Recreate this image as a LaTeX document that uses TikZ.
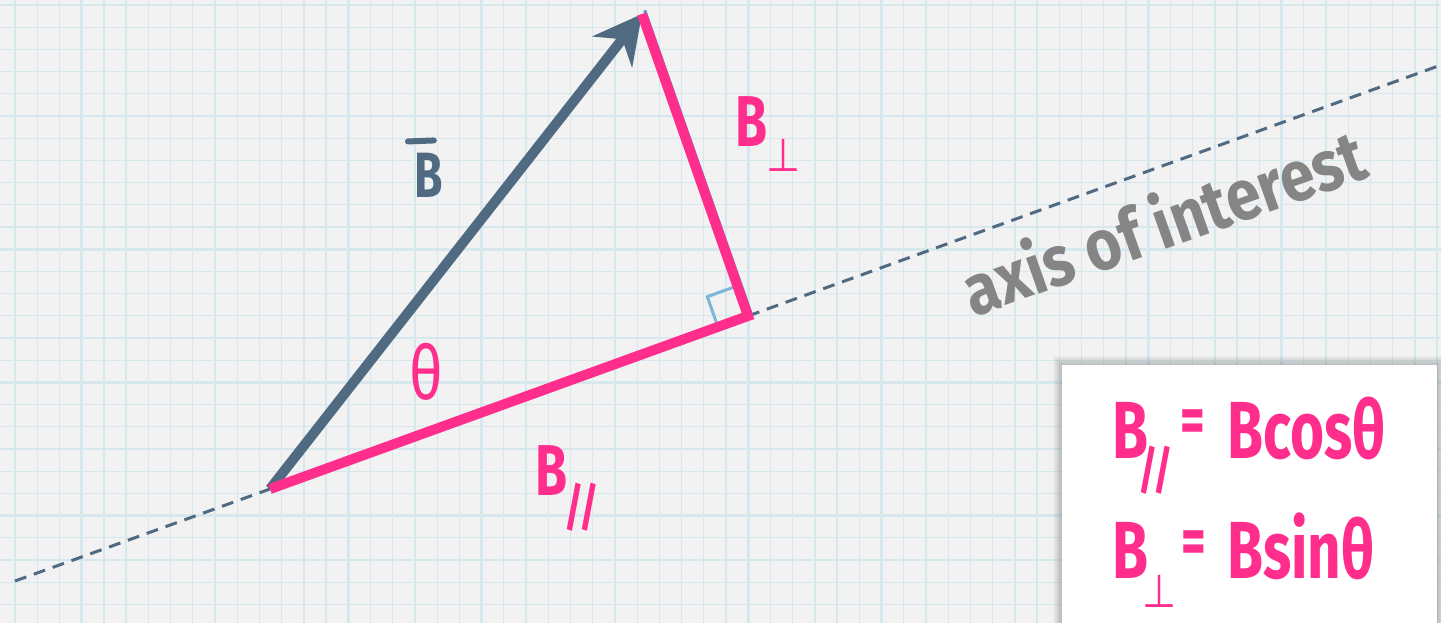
\documentclass[tikz,border=0pt]{standalone}
\usepackage{fontspec}
\usepackage{graphicx}
\setmainfont{Fira Sans}
\newfontfamily\symfont{DejaVu Sans}
\usetikzlibrary{arrows.meta,calc}
\definecolor{paper}{HTML}{F2F2F2}
\definecolor{gridblue}{HTML}{D6E8EE}
\definecolor{slate}{HTML}{506A82}
\definecolor{hotpink}{HTML}{FF2D8C}
\definecolor{angleblue}{HTML}{7DB5D8}
\definecolor{perpblue}{HTML}{4A9FD5}
\definecolor{labelgray}{HTML}{858585}
\newcommand{\nar}[1]{\scalebox{0.72}[1]{#1}}
\begin{document}
\begin{tikzpicture}[x=1pt,y=-1pt,
  gridminor/.style={gridblue, line width=1.3pt},
  gridmajor/.style={gridblue, line width=2.6pt},
  axisline/.style={slate, line width=3pt, dash pattern=on 12pt off 8pt},
  vecline/.style={slate, line width=10pt, -{Stealth[length=48pt,width=50pt,inset=16pt]}},
  pinkline/.style={hotpink, line width=10pt, line join=miter},
  anglemark/.style={angleblue, line width=3pt},
  perpline/.style={perpblue, line width=3pt},
  bigB/.style={inner sep=0pt, font=\fontsize{72}{80}\selectfont\bfseries},
  eqB/.style={inner sep=0pt, font=\fontsize{81}{90}\selectfont\bfseries, hotpink},
  parsub/.style={inner sep=0pt, font=\fontsize{52}{60}\selectfont\bfseries, hotpink},
  perpsub/.style={inner sep=0pt, font=\fontsize{46}{50}\selectfont\symfont, hotpink},
  eqsign/.style={inner sep=0pt, font=\fontsize{68}{72}\selectfont\bfseries, hotpink},
  eqbox/.style={fill=white}
]
\useasboundingbox (0,0) rectangle (1441,623);
\fill[paper] (0,0) rectangle (1441,623);
% grid
\foreach \k in {0,...,64} \draw[gridminor] ({15+22.22*\k},0) -- ({15+22.22*\k},623);
\foreach \k in {0,...,27} \draw[gridminor] (0,{5+22.2*\k}) -- (1441,{5+22.2*\k});
\foreach \k in {3,9,...,63} \draw[gridmajor] ({15+22.22*\k},0) -- ({15+22.22*\k},623);
\foreach \k in {5,11,17,23} \draw[gridmajor] (0,{5+22.2*\k}) -- (1441,{5+22.2*\k});

% key points
\coordinate (O) at (270,489);
\coordinate (C) at (748,316);
\coordinate (T) at (642,14);
\coordinate (AL) at (15,581);
\coordinate (AR) at (1441,65);

% axis of interest
\draw[axisline] (AL) -- (O);
\draw[axisline] (C) -- (AR);

% right-angle mark
\coordinate (P1) at ($(C)!32pt!(O)$);
\coordinate (P3) at ($(C)!32pt!(T)$);
\coordinate (P2) at ($(P1)+(P3)-(C)$);
\draw[anglemark] (P1) -- (P2) -- (P3);
\draw[perpline, shorten <=-4pt] ([xshift=4pt]T) -- ([xshift=4pt]C);

% vector B
\draw[vecline] (O) -- (T);
% components
\draw[pinkline] (O) -- (C) -- (T);

% labels
\node[bigB, slate, anchor=base west, font=\fontsize{64}{70}\selectfont\bfseries] (Bvec) at (414,197) {\nar{B}};
\draw[slate, line width=6pt, line cap=round] ([xshift=-6pt,yshift=11pt]Bvec.north west) -- ([xshift=-9pt,yshift=12pt]Bvec.north east);
\node[hotpink, inner sep=0pt, font=\fontsize{75}{80}\selectfont] (theta) at (426,372) {\scalebox{0.78}[1]{θ}};
\node[bigB, hotpink, anchor=base west] (Bpar) at (535,495) {\nar{B}};
\node[parsub] (Bparsub) at (582,507) {\nar{//}};
\node[bigB, hotpink, anchor=base west] (Bperp) at (735,147) {\nar{B}};
\node[perpsub] (Bperpsub) at (784,155) {\scalebox{0.85}[1]{⊥}};

\node[font=\fontsize{62}{70}\selectfont\bfseries, text=labelgray, rotate=19.5, inner sep=0pt] (axislabel) at (1163,220) {\scalebox{1}[1.15]{axis of interest}};

% equation box
\foreach \i in {1,...,9} \fill[black, opacity=0.022] ({1062-\i},{365-\i}) rectangle ({1437+\i},640);
\path[eqbox] (1062,365) rectangle (1437,640);

\node[eqB, anchor=base west] (B1) at (1112,458) {\nar{B}};
\node[parsub] (B1sub) at (1156,470) {\nar{//}};
\node[eqsign] (eq1) at (1193,427) {\scalebox{0.7}[1]{=}};
\node[eqB, anchor=base west] (rhs1) at (1227,458) {\nar{Bcosθ}};

\node[eqB, anchor=base west] (B2) at (1112,578) {\nar{B}};
\node[perpsub] (B2sub) at (1160,591) {\scalebox{0.85}[1]{⊥}};
\node[eqsign] (eq2) at (1194,548) {\scalebox{0.7}[1]{=}};
\node[eqB, anchor=base west] (rhs2) at (1227,578) {\nar{Bsinθ}};
\end{tikzpicture}
\end{document}
